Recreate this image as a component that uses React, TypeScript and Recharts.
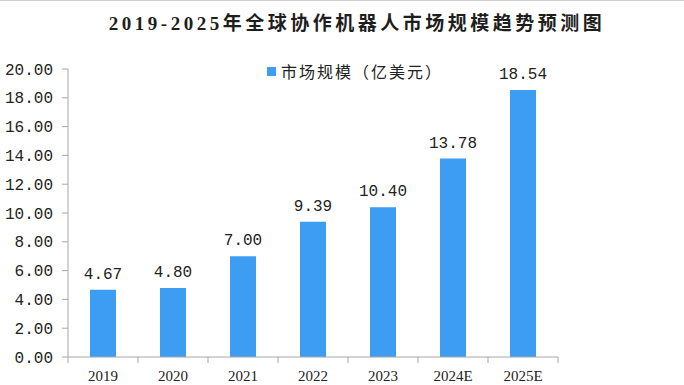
import React from 'react';
import { BarChart, Bar, XAxis, YAxis, LabelList } from 'recharts';

// chart values
const years = ['2019', '2020', '2021', '2022', '2023', '2024E', '2025E'];
const marketSize = [4.67, 4.8, 7.0, 9.39, 10.4, 13.78, 18.54];
const yTicks = [0, 2, 4, 6, 8, 10, 12, 14, 16, 18, 20];

const seriesName = '市场规模（亿美元）';
const title = '2019-2025年全球协作机器人市场规模趋势预测图';

const data = years.map((year, i) => ({ year, value: marketSize[i] }));

const W = 684;
const H = 385;
const MARGIN = { top: 68, right: 126, bottom: 0, left: 0 };
const Y_AXIS_W = 68;
const X_AXIS_H = 28;
const BAR_COLOR = '#3d9df3';
const AXIS_COLOR = '#a6a6a6';
const NUM_FONT = '"Liberation Mono", "DejaVu Sans Mono", monospace';

const bandWidth = (W - MARGIN.left - MARGIN.right - Y_AXIS_W) / years.length;

// category tick: label in the middle, tick marks on the band edges
const XTick = (props: any) => {
    const { x, y, payload, index } = props;
    const last = index === years.length - 1;
    return (
        <g>
            <line x1={x - bandWidth / 2} y1={y - 8} x2={x - bandWidth / 2} y2={y - 2} stroke={AXIS_COLOR} />
            {last && (
                <line x1={x + bandWidth / 2} y1={y - 8} x2={x + bandWidth / 2} y2={y - 2} stroke={AXIS_COLOR} />
            )}
            <text
                x={x}
                y={y + 16}
                textAnchor="middle"
                fill="#222"
                style={{ fontFamily: '"Liberation Serif", serif', fontSize: 15 }}
            >
                {payload.value}
            </text>
        </g>
    );
};

const App: React.FC = () => {
    return (
        <div
            style={{
                position: 'absolute',
                left: 0,
                top: 0,
                width: W,
                height: H,
                background: '#fff',
                borderTop: '1px solid #d0d0d0',
                boxSizing: 'border-box',
                overflow: 'hidden',
            }}
        >
            <div
                style={{
                    position: 'absolute',
                    top: 11,
                    left: 0,
                    width: W,
                    paddingLeft: 30,
                    boxSizing: 'border-box',
                    textAlign: 'center',
                    fontFamily: '"Liberation Serif", "Noto Sans CJK SC", serif',
                    fontWeight: 'bold',
                    fontSize: 19,
                    letterSpacing: 3.5,
                    color: '#1e1e1e',
                    lineHeight: '24px',
                }}
            >
                {title}
            </div>
            {/* legend */}
            <div style={{ position: 'absolute', top: 61, left: 267, display: 'flex', alignItems: 'center', gap: 5 }}>
                <span style={{ display: 'inline-block', width: 9, height: 9, background: BAR_COLOR }} />
                <span
                    style={{
                        fontFamily: '"Noto Sans CJK SC", sans-serif',
                        fontSize: 16,
                        letterSpacing: 2,
                        color: '#222',
                        lineHeight: '18px',
                    }}
                >
                    {seriesName}
                </span>
            </div>
            <BarChart width={W} height={H - 1} data={data} margin={MARGIN} barSize={26}>
                <XAxis
                    dataKey="year"
                    height={X_AXIS_H}
                    axisLine={{ stroke: AXIS_COLOR }}
                    tickLine={false}
                    tick={<XTick />}
                    interval={0}
                />
                <YAxis
                    width={Y_AXIS_W}
                    domain={[0, 20]}
                    ticks={yTicks}
                    interval={0}
                    axisLine={{ stroke: AXIS_COLOR }}
                    tickLine={{ stroke: AXIS_COLOR }}
                    tickSize={6}
                    tickMargin={9}
                    tickFormatter={(v: number) => v.toFixed(2)}
                    tick={{ fill: '#222', fontSize: 16, fontFamily: NUM_FONT }}
                />
                <Bar dataKey="value" name={seriesName} fill={BAR_COLOR} isAnimationActive={false}>
                    <LabelList
                        dataKey="value"
                        position="top"
                        offset={11}
                        formatter={(v: number) => v.toFixed(2)}
                        style={{ fill: '#222', fontSize: 16, fontFamily: NUM_FONT }}
                    />
                </Bar>
            </BarChart>
        </div>
    );
};

export default App;
